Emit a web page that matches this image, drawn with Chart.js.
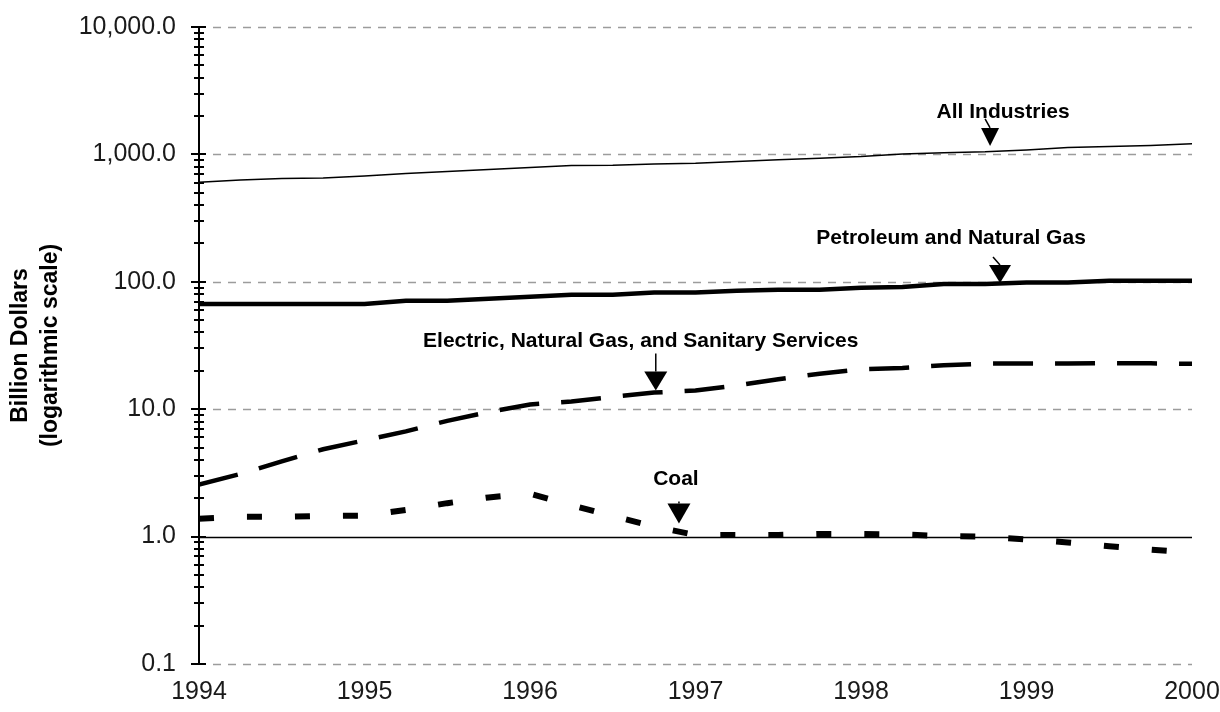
<!DOCTYPE html>
<html>
<head>
<meta charset="utf-8">
<title>Billion Dollars (logarithmic scale)</title>
<script src="https://cdn.jsdelivr.net/npm/chart.js@4.4.1/dist/chart.umd.min.js"></script>
<style>
  html, body { margin: 0; padding: 0; background: #fff; }
  #wrap { width: 1220px; height: 712px; }
</style>
</head>
<body>
<div id="wrap"><canvas id="chart" width="1220" height="712"></canvas></div>
<script>
// Quarterly points, 1994 - 2000
const quarters = [1994, 1994.25, 1994.5, 1994.75, 1995, 1995.25, 1995.5, 1995.75,
  1996, 1996.25, 1996.5, 1996.75, 1997, 1997.25, 1997.5, 1997.75,
  1998, 1998.25, 1998.5, 1998.75, 1999, 1999.25, 1999.5, 1999.75, 2000]

// Series values, billion dollars
const allIndustries = [605, 631, 648, 654, 678, 707, 733, 760, 788, 820, 823, 842, 853,
  879, 906, 933, 961, 1009, 1028, 1047, 1085, 1131, 1152, 1173, 1210]
const petroleum = [67, 67, 67, 67, 67, 71, 71, 73.6, 76.3, 79, 79, 82.4, 82.4,
  85, 86.5, 86.5, 89.7, 90.9, 95.9, 95.9, 98.8, 98.8, 102, 102, 102]
const electric = [2.56, 3.1, 3.9, 4.85, 5.7, 6.7, 8.1, 9.5, 10.9, 11.5, 12.5, 13.5, 14.0,
  15.4, 17.2, 19.0, 20.6, 21.1, 22.1, 22.8, 22.8, 22.8, 23.0, 22.9, 22.7]
const coal = [1.38, 1.43, 1.43, 1.45, 1.46, 1.62, 1.83, 2.03, 2.17, 1.76, 1.45, 1.2, 1.03,
  1.03, 1.03, 1.05, 1.05, 1.04, 1.01, 1.0, 0.95, 0.9, 0.84, 0.79, 0.75]

// Axis ticks
const xTickValues = [1994, 1995, 1996, 1997, 1998, 1999, 2000]
const xTickLabels = ['1994', '1995', '1996', '1997', '1998', '1999', '2000']
const yTickValues = [0.1, 1, 10, 100, 1000, 10000]
const yTickLabels = ['0.1', '1.0', '10.0', '100.0', '1,000.0', '10,000.0']
const yTitle = ['Billion Dollars', '(logarithmic scale)']

// Callouts: text and the point (year, value) the arrow tip sits on
const noteLabels = ['All Industries', 'Petroleum and Natural Gas',
  'Electric, Natural Gas, and Sanitary Services', 'Coal']
const noteYears = [1998.78, 1998.84, 1996.76, 1996.9]
const noteValues = [1166, 98, 14, 1.27]

// Pixel offsets of each callout relative to its arrow tip
const noteLayout = [
  { dx: 13, dy: -34, stemDx: -5, stemLen: 27, headH: 18, hw: 9 },
  { dx: -49, dy: -45, stemDx: -7, stemLen: 26, headH: 18, hw: 11 },
  { dx: -15, dy: -49, stemDx: 0, stemLen: 37, headH: 19, hw: 11.5 },
  { dx: -3, dy: -44, stemDx: 0, stemLen: 22, headH: 20, hw: 11.5 }
]

const FONT = '"Liberation Sans", Arial, sans-serif'

// Gridlines and tick marks that cross the y axis
const logGrid = {
  id: 'logGrid',
  beforeDatasetsDraw(chart) {
    const { ctx, chartArea, scales: { y } } = chart
    const left = chartArea.left
    ctx.save()

    yTickValues.forEach(v => {
      const py = Math.round(y.getPixelForValue(v)) + 0.5
      ctx.beginPath()
      if (v === 1) {
        ctx.setLineDash([])
        ctx.strokeStyle = '#000'
        ctx.lineWidth = 1.5
        ctx.moveTo(left, py)
      } else {
        ctx.setLineDash([8, 7])
        ctx.strokeStyle = '#9c9c9c'
        ctx.lineWidth = 1.5
        ctx.moveTo(left + 14, py)
      }
      ctx.lineTo(chartArea.right, py)
      ctx.stroke()
    })

    // major and minor tick marks
    ctx.setLineDash([])
    ctx.strokeStyle = '#000'
    ctx.lineWidth = 2
    yTickValues.forEach((v, i) => {
      let py = Math.round(y.getPixelForValue(v))
      ctx.beginPath()
      ctx.moveTo(left - 8, py)
      ctx.lineTo(left + 7, py)
      ctx.stroke()
      if (i === yTickValues.length - 1) return
      for (let m = 2; m <= 9; m++) {
        py = Math.round(y.getPixelForValue(v * m))
        ctx.beginPath()
        ctx.moveTo(left - 5, py)
        ctx.lineTo(left + 5, py)
        ctx.stroke()
      }
    })
    ctx.restore()
  }
}

// Callout texts with arrows, and the rotated axis title
const callouts = {
  id: 'callouts',
  afterDatasetsDraw(chart) {
    const { ctx, chartArea, scales: { x, y } } = chart
    ctx.save()
    ctx.fillStyle = '#000'
    ctx.strokeStyle = '#000'

    noteLabels.forEach((text, i) => {
      const tx = x.getPixelForValue(noteYears[i])
      const ty = y.getPixelForValue(noteValues[i])
      const l = noteLayout[i]

      ctx.font = 'bold 21px ' + FONT
      ctx.textAlign = 'center'
      ctx.textBaseline = 'middle'
      ctx.fillText(text, tx + l.dx, ty + l.dy)

      // stem
      ctx.lineWidth = 1.5
      ctx.beginPath()
      ctx.moveTo(tx + l.stemDx, ty - l.stemLen)
      ctx.lineTo(tx, ty - l.headH)
      ctx.stroke()

      // arrow head
      ctx.beginPath()
      ctx.moveTo(tx - l.hw, ty - l.headH)
      ctx.lineTo(tx + l.hw, ty - l.headH)
      ctx.lineTo(tx, ty)
      ctx.closePath()
      ctx.fill()
    })

    // y axis title, two lines
    const cy = (chartArea.top + chartArea.bottom) / 2
    ctx.font = 'bold 23px ' + FONT
    ctx.textAlign = 'center'
    ctx.textBaseline = 'middle'
    yTitle.forEach((line, i) => {
      ctx.save()
      ctx.translate(21 + i * 30, cy)
      ctx.rotate(-Math.PI / 2)
      ctx.fillText(line, 0, 0)
      ctx.restore()
    })
    ctx.restore()
  }
}

function series(values) {
  return values.map((v, i) => ({ x: quarters[i], y: v }))
}

const ctx = document.getElementById('chart').getContext('2d')

new Chart(ctx, {
  type: 'line',
  data: {
    datasets: [
      {
        label: 'All Industries',
        data: series(allIndustries),
        borderColor: '#000',
        borderWidth: 1.5
      },
      {
        label: 'Petroleum and Natural Gas',
        data: series(petroleum),
        borderColor: '#000',
        borderWidth: 4.5
      },
      {
        label: 'Electric, Natural Gas, and Sanitary Services',
        data: series(electric),
        borderColor: '#000',
        borderWidth: 4.5,
        borderDash: [40, 22]
      },
      {
        label: 'Coal',
        data: series(coal),
        borderColor: '#000',
        borderWidth: 6,
        borderDash: [15, 33]
      }
    ]
  },
  options: {
    responsive: false,
    animation: false,
    devicePixelRatio: 1,
    layout: { padding: { top: 27, right: 28, bottom: 0, left: 0 } },
    elements: {
      point: { radius: 0 },
      line: { tension: 0, borderCapStyle: 'butt', fill: false }
    },
    plugins: {
      legend: { display: false },
      tooltip: { enabled: false }
    },
    scales: {
      x: {
        type: 'linear',
        min: 1994,
        max: 2000,
        afterBuildTicks: scale => {
          scale.ticks = xTickValues.map(v => ({ value: v }))
        },
        afterFit: scale => {
          scale.height = 48
          scale.paddingLeft = 0
          scale.paddingRight = 0
        },
        grid: { display: false, drawTicks: false },
        border: { display: false },
        ticks: {
          autoSkip: false,
          maxRotation: 0,
          padding: 13,
          color: '#1a1a1a',
          font: { family: FONT, size: 25 },
          callback: (value, i) => xTickLabels[i]
        }
      },
      y: {
        type: 'logarithmic',
        min: 0.1,
        max: 10000,
        afterBuildTicks: scale => {
          scale.ticks = yTickValues.map(v => ({ value: v }))
        },
        afterFit: scale => {
          scale.width = 199
          scale.paddingTop = 0
          scale.paddingBottom = 0
        },
        grid: { display: false, drawTicks: false },
        border: { display: true, color: '#000', width: 2 },
        ticks: {
          autoSkip: false,
          padding: 23,
          color: '#1a1a1a',
          font: { family: FONT, size: 25 },
          callback: (value, i) => yTickLabels[i]
        }
      }
    }
  },
  plugins: [logGrid, callouts]
})
</script>
</body>
</html>
